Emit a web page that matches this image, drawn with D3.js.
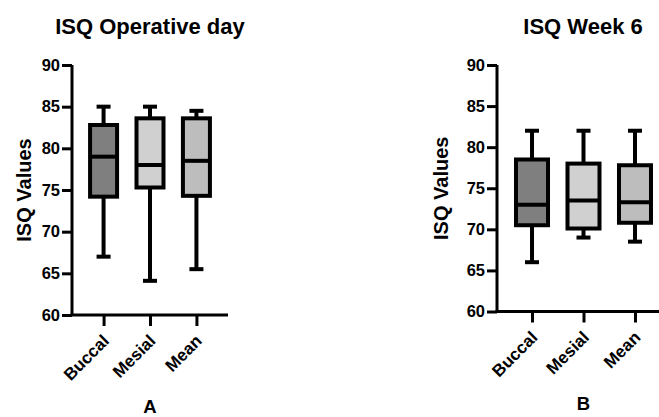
<!DOCTYPE html>
<html>
<head>
<meta charset="utf-8">
<script src="https://cdn.jsdelivr.net/npm/d3@7"></script>
<style>
  body { margin: 0; background: #fff; }
  svg { display: block; font-family: 'Liberation Sans', Arial, sans-serif; }
</style>
</head>
<body>
<svg id="chart" width="659" height="417"></svg>
<script>
// groups and fill colours
const groups = ['Buccal', 'Mesial', 'Mean']
const fills = ['#7f7f7f', '#d0d0d0', '#bdbdbd']
const yTicks = [60, 65, 70, 75, 80, 85, 90]

// box stats [min, q1, median, q3, max]
const opDayMin = [67, 64.1, 65.5]
const opDayQ1 = [74.2, 75.3, 74.3]
const opDayMedian = [79, 78, 78.5]
const opDayQ3 = [82.8, 83.6, 83.6]
const opDayMax = [85, 85, 84.5]

const week6Min = [66, 69, 68.5]
const week6Q1 = [70.5, 70.1, 70.8]
const week6Median = [73, 73.5, 73.3]
const week6Q3 = [78.5, 78, 77.8]
const week6Max = [82, 82, 82]

const svg = d3.select('#chart')
const FONT = "'Liberation Sans', Arial, sans-serif"

function panel(opts) {
  const { title, letter, x0, x1, yTop, yBottom, boxW, capW, titleX, labelX, stats } = opts
  const y = d3.scaleLinear().domain([60, 90]).range([yBottom, yTop])
  const x = d3.scalePoint().domain(groups).range([x0, x1]).padding(0.68)
  const g = svg.append('g')

  const data = groups.map((name, i) => ({
    name,
    fill: fills[i],
    min: stats.min[i],
    q1: stats.q1[i],
    med: stats.med[i],
    q3: stats.q3[i],
    max: stats.max[i]
  }))

  // y axis
  const ya = g.append('g')
    .attr('transform', `translate(${x0},0)`)
    .call(d3.axisLeft(y).tickValues(yTicks).tickSize(10).tickPadding(2))
    .attr('font-family', FONT)
    .attr('font-size', 16.5)
    .attr('font-weight', 'bold')
  ya.select('.domain').attr('stroke', '#000').attr('stroke-width', 3)
    .attr('d', `M0,${yTop}V${yBottom}`)
  ya.selectAll('.tick line').attr('stroke-width', 3)
  ya.selectAll('.tick text').attr('fill', '#000')

  // x axis
  const xa = g.append('g')
    .attr('transform', `translate(0,${yBottom})`)
    .call(d3.axisBottom(x).tickSize(11).tickSizeOuter(0))
    .attr('font-family', FONT)
    .attr('font-size', 17)
    .attr('font-weight', 'bold')
  xa.select('.domain').attr('stroke', '#000').attr('stroke-width', 3)
    .attr('d', `M${x0 - 1.5},0H${x1}`)
  xa.selectAll('.tick line').attr('stroke-width', 3)
  xa.selectAll('.tick text')
    .attr('fill', '#000')
    .attr('text-anchor', 'end')
    .attr('x', 0).attr('y', 0).attr('dy', 0)
    .attr('transform', 'translate(6,27) rotate(-45)')

  const box = g.append('g').selectAll('g').data(data).join('g')
    .attr('stroke', '#000')
    .attr('stroke-width', 4)

  // whiskers
  box.append('line')
    .attr('x1', d => x(d.name)).attr('x2', d => x(d.name))
    .attr('y1', d => y(d.max)).attr('y2', d => y(d.min))
  box.append('line')
    .attr('x1', d => x(d.name) - capW / 2).attr('x2', d => x(d.name) + capW / 2)
    .attr('y1', d => y(d.max)).attr('y2', d => y(d.max))
  box.append('line')
    .attr('x1', d => x(d.name) - capW / 2).attr('x2', d => x(d.name) + capW / 2)
    .attr('y1', d => y(d.min)).attr('y2', d => y(d.min))

  // boxes
  box.append('rect')
    .attr('x', d => x(d.name) - boxW / 2)
    .attr('width', boxW)
    .attr('y', d => y(d.q3))
    .attr('height', d => y(d.q1) - y(d.q3))
    .attr('fill', d => d.fill)
  box.append('line')
    .attr('x1', d => x(d.name) - boxW / 2).attr('x2', d => x(d.name) + boxW / 2)
    .attr('y1', d => y(d.med)).attr('y2', d => y(d.med))

  // titles
  g.append('text')
    .attr('x', titleX).attr('y', 34)
    .attr('text-anchor', 'middle')
    .style('font-size', '22px').style('font-weight', 'bold')
    .text(title)
  g.append('text')
    .attr('transform', `translate(${labelX},${(yTop + yBottom) / 2}) rotate(-90)`)
    .attr('text-anchor', 'middle')
    .attr('dy', '0.35em')
    .style('font-size', '20px').style('font-weight', 'bold')
    .text('ISQ Values')
  g.append('text')
    .attr('x', x(groups[1])).attr('y', yBottom + 98)
    .attr('text-anchor', 'middle')
    .style('font-size', '18.5px').style('font-weight', 'bold')
    .text(letter)
}

panel({
  title: 'ISQ Operative day', letter: 'A',
  x0: 72, x1: 228, yTop: 65, yBottom: 315,
  boxW: 27, capW: 14, titleX: 150, labelX: 24,
  stats: { min: opDayMin, q1: opDayQ1, med: opDayMedian, q3: opDayQ3, max: opDayMax }
})

panel({
  title: 'ISQ Week 6', letter: 'B',
  x0: 497, x1: 670, yTop: 65, yBottom: 311.5,
  boxW: 32, capW: 14, titleX: 583, labelX: 441,
  stats: { min: week6Min, q1: week6Q1, med: week6Median, q3: week6Q3, max: week6Max }
})
</script>
</body>
</html>
